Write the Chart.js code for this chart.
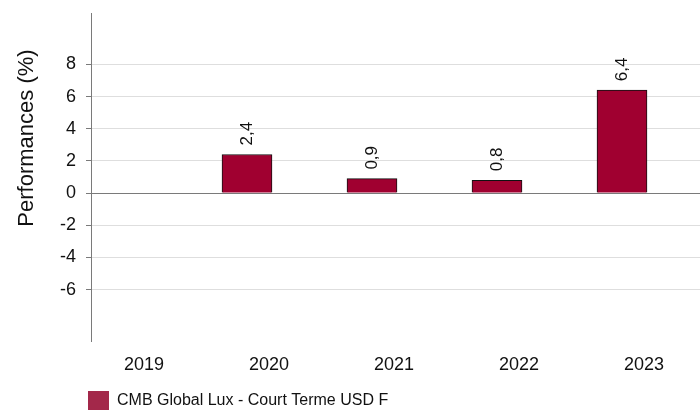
<!DOCTYPE html>
<html>
<head>
<meta charset="utf-8">
<script src="https://cdn.jsdelivr.net/npm/chart.js@4.4.0/dist/chart.umd.min.js"></script>
<style>
html,body{margin:0;padding:0;background:#ffffff;}
#wrap{width:700px;height:410px;}
</style>
</head>
<body>
<div id="wrap"><canvas id="c" width="700" height="410"></canvas></div>
<script>
// ---- data ----
const categories = ['2019', '2020', '2021', '2022', '2023'];
const seriesName = 'CMB Global Lux - Court Terme USD F';
const performances = [null, 2.4, 0.9, 0.8, 6.4];
const yTickValues = [-6, -4, -2, 0, 2, 4, 6, 8];
const yTitle = 'Performances (%)';

// ---- styles ----
const FONT = "'Liberation Sans', Arial, Helvetica, sans-serif";
const barColor = '#A00030';
const legendSwatch = '#A3284A';
const gridColor = '#DEDEDE';
const axisColor = '#7A7A7A';

const fmt = v => v.toFixed(1).replace('.', ',');

const points = categories.map((c, i) => ({ x: i, y: performances[i] }));

const valueLabels = {
  id: 'valueLabels',
  afterDatasetsDraw(chart) {
    const ctx = chart.ctx;
    const meta = chart.getDatasetMeta(0);
    ctx.save();
    ctx.font = '17px ' + FONT;
    ctx.fillStyle = '#111';
    ctx.textAlign = 'left';
    ctx.textBaseline = 'middle';
    meta.data.forEach((el, i) => {
      const v = performances[i];
      if (v === null || v === undefined) return;
      ctx.save();
      ctx.translate(el.x, el.y - 9);
      ctx.rotate(-Math.PI / 2);
      ctx.fillText(fmt(v), 0, 0);
      ctx.restore();
    });
    ctx.restore();
  }
};

const placeBoxes = {
  id: 'placeBoxes',
  afterLayout(chart) {
    const t = chart.titleBlock;
    if (t) { t.top = 28; t.bottom = 248; }
    const lg = chart.legend;
    if (lg) { lg.left += 83; lg.right += 83; lg.top += 11; lg.bottom += 11; }
  }
};

new Chart(document.getElementById('c'), {
  type: 'bar',
  data: {
    datasets: [{
      label: seriesName,
      data: points,
      backgroundColor: barColor,
      borderColor: '#111111',
      borderWidth: 1,
      barThickness: 50
    }]
  },
  options: {
    responsive: false,
    devicePixelRatio: 1,
    animation: false,
    layout: { padding: { top: 13, right: 0, bottom: 0, left: 0 } },
    scales: {
      x: {
        type: 'linear',
        offset: false,
        min: -0.248,
        max: 4.624,
        grid: { display: false, offset: false },
        border: { display: false },
        afterBuildTicks(scale) { scale.ticks = categories.map((c, i) => ({ value: i })); },
        afterFit(scale) { scale.height = 34; scale.paddingLeft = 0; scale.paddingRight = 0; },
        ticks: {
          autoSkip: false,
          maxRotation: 0,
          labelOffset: 22,
          padding: 5,
          color: '#111',
          font: { family: FONT, size: 18 },
          callback: (v) => categories[v]
        }
      },
      y: {
        min: -9.2,
        max: 11.2,
        afterBuildTicks(scale) { scale.ticks = yTickValues.map(v => ({ value: v })); },
        afterFit(scale) { scale.width = 50.8; scale.paddingTop = 0; scale.paddingBottom = 0; },
        grid: {
          color: (c) => (c.tick && c.tick.value === 0) ? axisColor : gridColor,
          tickColor: axisColor,
          tickLength: 5,
          lineWidth: 1
        },
        border: { display: true, color: axisColor, width: 1 },
        ticks: {
          padding: 10,
          color: '#111',
          font: { family: FONT, size: 18 },
          callback: (v) => String(v)
        }
      }
    },
    plugins: {
      title: {
        display: true,
        text: yTitle,
        position: 'left',
        fullSize: false,
        color: '#111',
        font: { family: FONT, size: 22, weight: 'normal' },
        padding: { top: 13.8, bottom: 0 }
      },
      legend: {
        display: true,
        position: 'bottom',
        align: 'start',
        labels: {
          boxWidth: 21,
          boxHeight: 20,
          padding: 5,
          color: '#111',
          font: { family: FONT, size: 16 },
          generateLabels(chart) {
            const items = Chart.defaults.plugins.legend.labels.generateLabels(chart);
            items.forEach(it => { it.fillStyle = legendSwatch; it.lineWidth = 0; it.strokeStyle = legendSwatch; });
            return items;
          }
        }
      },
      tooltip: { enabled: false }
    }
  },
  plugins: [valueLabels, placeBoxes]
});
</script>
</body>
</html>
